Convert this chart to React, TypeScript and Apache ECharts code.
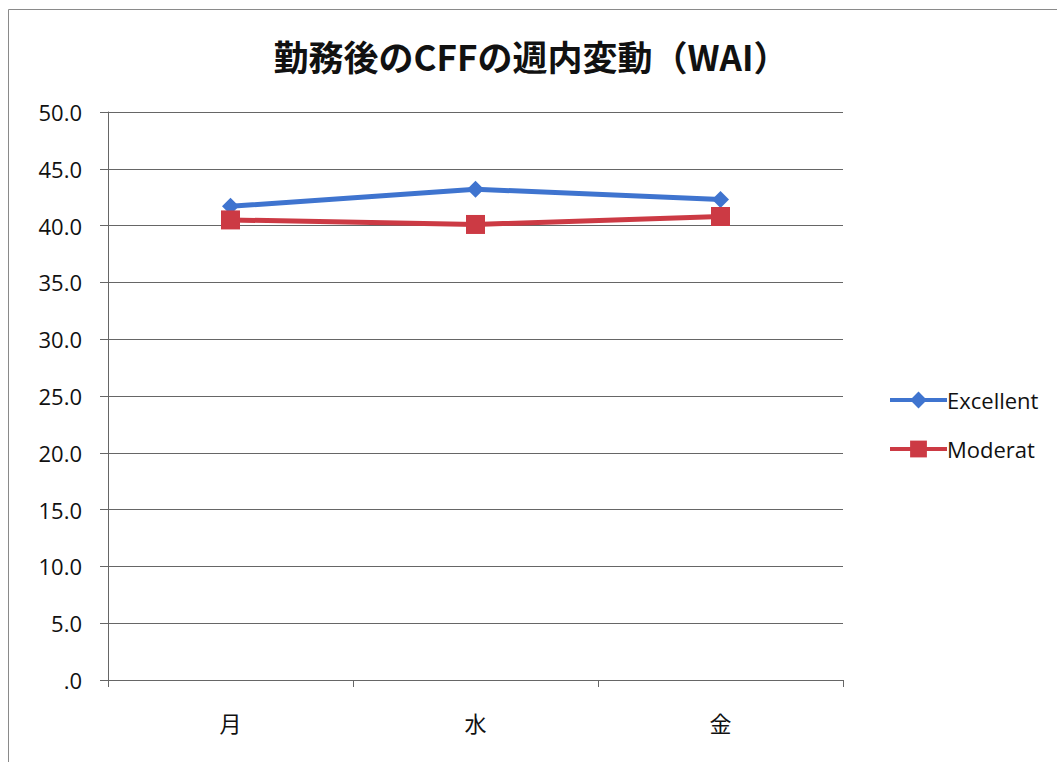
import React, { useEffect, useRef } from "react";
import * as echarts from "echarts";

const categories = ["月", "水", "金"];
const excellent = [41.7, 43.2, 42.3];
const moderat = [40.5, 40.1, 40.8];
const titleText = "勤務後のCFFの週内変動（WAI）";

export default function App() {
  const ref = useRef<HTMLDivElement>(null);
  useEffect(() => {
    const chart = echarts.init(ref.current!, null, { renderer: "svg" });
    const font = "'Open Sans', 'Noto Sans CJK JP', sans-serif";
    chart.setOption({
      animation: false,
      backgroundColor: "#ffffff",
      title: {
        text: titleText,
        left: 526,
        textAlign: "center",
        top: 33,
        textStyle: {
          fontFamily: "'Noto Sans CJK JP', sans-serif",
          fontWeight: "bold",
          fontSize: 35,
          color: "#111",
        },
      },
      graphic: [
        {
          type: "rect",
          shape: { x: 8.5, y: 9.5, width: 1100, height: 900 },
          style: { fill: "none", stroke: "#8a8a8a", lineWidth: 1 },
          silent: true,
        },
      ],
      legend: {
        orient: "vertical",
        left: 883,
        top: 384,
        itemWidth: 57,
        itemHeight: 21,
        itemGap: 27,
        lineStyle: { width: 4 },
        textStyle: { fontFamily: font, fontSize: 22, color: "#111", padding: [0, 0, 0, -5] },
        data: ["Excellent", "Moderat"],
      },
      grid: { left: 108, right: 214, top: 112, bottom: 82 },
      xAxis: {
        type: "category",
        data: categories,
        boundaryGap: true,
        axisLine: { lineStyle: { color: "#666", width: 1 } },
        axisTick: { show: true, length: 7, lineStyle: { color: "#666" } },
        axisLabel: {
          fontFamily: "'Noto Sans CJK JP', sans-serif",
          fontSize: 22,
          color: "#111",
          margin: 31,
        },
      },
      yAxis: {
        type: "value",
        min: 0,
        max: 50,
        interval: 5,
        axisLine: { show: true, lineStyle: { color: "#666", width: 1 } },
        axisTick: { show: true, length: 8, lineStyle: { color: "#666" } },
        splitLine: { lineStyle: { color: "#666", width: 1 } },
        axisLabel: {
          fontFamily: font,
          fontSize: 22,
          color: "#111",
          margin: 26,
          formatter: (v: number) => (v === 0 ? ".0" : v.toFixed(1)),
        },
      },
      series: [
        {
          name: "Excellent",
          type: "line",
          data: excellent,
          symbol: "diamond",
          symbolSize: 17,
          lineStyle: { color: "#3f74cf", width: 5 },
          itemStyle: { color: "#3f74cf" },
          z: 3,
        },
        {
          name: "Moderat",
          type: "line",
          data: moderat,
          symbol: "rect",
          symbolSize: 19,
          lineStyle: { color: "#cc3a44", width: 5 },
          itemStyle: { color: "#cc3a44" },
          z: 4,
        },
      ],
    });
    return () => chart.dispose();
  }, []);
  return (
    <div
      ref={ref}
      style={{ position: "fixed", left: 0, top: 0, width: 1057, height: 762 }}
    />
  );
}
